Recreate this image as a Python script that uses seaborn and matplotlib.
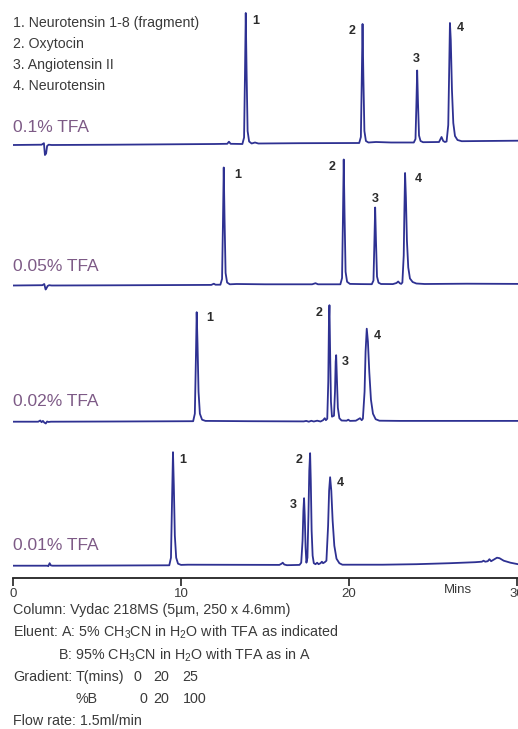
import numpy as np
import pandas as pd
import matplotlib
matplotlib.use("Agg")
import matplotlib.pyplot as plt
import seaborn as sns

# chromatogram traces (time in mins, detector signal)
t_01 = [0, 1.7, 1.84, 1.9, 1.97, 2.03, 2.12, 2.3, 6, 12.0, 12.75, 12.85, 12.95,
        13.65, 13.75, 13.8, 13.85, 13.9, 13.96, 14.05, 14.2, 14.4, 14.6, 17, 20.6,
        20.7, 20.75, 20.8, 20.85, 20.91, 21.0, 21.15, 21.6, 22.5, 23.85, 23.95, 24.0,
        24.05, 24.1, 24.16, 24.25, 24.4, 25.35, 25.5, 25.6, 25.7, 25.8, 25.9, 25.95,
        26.0, 26.05, 26.12, 26.2, 26.3, 26.45, 26.7, 28, 30.05]
s_01 = [0, 0.3, 1.8, -10, -8.5, -1, 0.3, 0, 0.3, 1, 1.2, 3.3, 1.2,
        1, 7.5, 66, 132, 73, 14, 3.5, 1.5, 2.5, 1.5, 1.8, 2,
        8, 62, 121, 67, 14, 4, 2.5, 3, 2.5, 2.5, 6, 38,
        74.5, 42, 9.5, 4, 2.8, 3, 8, 4, 3, 3.5, 20, 70,
        122, 105, 55, 22, 9, 5, 3.8, 4, 4.3]

t_005 = [0, 1.75, 1.86, 1.94, 2.0, 2.06, 2.15, 2.3, 6, 11.8, 11.95, 12.05, 12.34,
         12.44, 12.49, 12.54, 12.59, 12.65, 12.74, 12.9, 13.3, 15, 17.8, 18.0, 18.15,
         19.48, 19.58, 19.63, 19.68, 19.73, 19.79, 19.88, 20.05, 20.7, 21.35, 21.45,
         21.5, 21.55, 21.6, 21.66, 21.75, 21.9, 22.6, 22.82, 22.92, 23.02, 23.1, 23.17,
         23.25, 23.29, 23.33, 23.38, 23.44, 23.52, 23.62, 23.78, 24.0, 24.5, 27, 30.05]
s_005 = [0, 0.3, 1.5, -4, -2.5, -0.5, 0.3, 0, 0.2, 0.6, 1.8, 0.8, 0.8,
         6.6, 59, 118, 65, 12.5, 3, 1.2, 1.5, 1.2, 1.2, 2.3, 1.2,
         1.2, 7.5, 63.5, 126, 70, 13.7, 3.7, 1.6, 1.4, 1.3, 5,
         40, 78, 44, 9, 2.8, 1.5, 1.4, 2.5, 4, 2.2, 1.6, 3,
         30, 75, 112.5, 88, 45, 18, 7, 3.5, 2, 1.5, 1.8, 1.6]

t_002 = [0, 1.5, 1.62, 1.7, 1.78, 1.86, 1.95, 2.03, 2.12, 2.25, 6, 10.72, 10.82,
         10.88, 10.93, 10.98, 11.04, 11.12, 11.25, 11.45, 14, 17.3, 17.45, 17.6, 17.75,
         17.9, 18.1, 18.3, 18.45, 18.55, 18.62, 18.7, 18.76, 18.8, 18.83, 18.87, 18.92,
         18.98, 19.1, 19.16, 19.2, 19.23, 19.27, 19.33, 19.42, 19.55, 19.85, 19.95,
         20.05, 20.4, 20.55, 20.65, 20.75, 20.82, 20.92, 20.98, 21.05, 21.12, 21.2,
         21.3, 21.42, 21.58, 21.8, 23, 30.05]
s_002 = [0, 0, 1.2, -0.5, 0.8, -0.8, -1.8, 0.2, -0.3, 0, 0.2, 0.5, 8,
         60, 109.5, 78, 30, 8, 2, 0.8, 0.5, 0.3, 0.8, 0, 0.9,
         0.2, 1, 0.2, 1.5, 3.5, 1.5, 3, 40, 100, 116.5, 70, 20,
         5, 6, 30, 60, 66.5, 45, 14, 3.5, 1.2, 1, 2,
         0.8, 1, 2.5, 3.5, 1.5, 3, 30, 70, 93, 80, 50,
         22, 8, 2.5, 1, 0.8, 0.8]

t_001 = [0, 2.05, 2.1, 2.18, 2.25, 2.35, 6, 9.3, 9.4, 9.46, 9.52, 9.57, 9.63,
         9.71, 9.82, 10.0, 10.4, 15.85, 15.98, 16.05, 16.14, 16.3, 17.05, 17.15, 17.23,
         17.28, 17.32, 17.36, 17.41, 17.46, 17.52, 17.58, 17.63, 17.68, 17.72, 17.77,
         17.83, 17.9, 18.0, 18.1, 18.18, 18.3, 18.38, 18.45, 18.55, 18.65, 18.75, 18.81,
         18.87, 18.94, 19.02, 19.12, 19.25, 19.42, 19.6, 22, 24, 26, 27.5, 27.9, 28.0,
         28.1, 28.25, 28.35, 28.45, 28.6, 28.8, 28.95, 29.2, 29.6, 30.05]
s_001 = [0, 0, -0.5, 2.5, 0.3, 0, 0.2, 0.4, 8, 62, 113.5, 80, 30,
         8, 2, 0.8, 1.0, 0.8, 2, 3, 1.2, 0.5, 0.8, 3, 25,
         55, 67.5, 50, 18, 3, 8, 50, 95, 112.5, 85, 35,
         10, 2.5, 1.5, 3, 1.5, 2.5, 4, 2.5, 3.5, 5, 40, 75,
         88.5, 75, 45, 20, 7, 2.5, 1, 1, 1.5, 2.5, 3.5, 4, 5,
         4, 4.5, 6.5, 4.5, 6, 8, 7.5, 5, 3, 1.5]

trace_names = ["0.1% TFA", "0.05% TFA", "0.02% TFA", "0.01% TFA"]
trace_times = [t_01, t_005, t_002, t_001]
trace_signals = [s_01, s_005, s_002, s_001]

# peak number labels: (time, signal) per trace, peaks 1..4
peak_label_t = [[14.46, 20.2, 23.99, 26.6],
                [13.35, 18.97, 21.55, 24.13],
                [11.69, 18.23, 19.76, 21.7],
                [10.12, 17.02, 16.65, 19.46]]
peak_label_s = [[124, 114, 86, 117],
                [111, 118, 87, 106],
                [104, 109, 60, 86],
                [106, 106, 61, 83]]

compounds = ["1. Neurotensin 1-8 (fragment)", "2. Oxytocin",
             "3. Angiotensin II", "4. Neurotensin"]

x_ticks = [0, 10, 20, 30]

conditions = [
    (13, 610, "Column: Vydac 218MS (5µm, 250 x 4.6mm)"),
    (13, 632, "Eluent: A: 5% CH$_3$CN in H$_2$O with TFA as indicated"),
    (58, 655, "B: 95% CH$_3$CN in H$_2$O with TFA as in A"),
    (13, 677, "Gradient:"), (76, 677, "T(mins)"), (134, 677, "0"),
    (153, 677, "20"), (182, 677, "25"),
    (76, 699, "%B"), (140, 699, "0"), (153, 699, "20"), (183, 699, "100"),
    (13, 721, "Flow rate: 1.5ml/min"),
]

sns.set_theme(style="white")
FONT = ["Liberation Sans", "DejaVu Sans"]
plt.rcParams["font.family"] = FONT
plt.rcParams["mathtext.fontset"] = "custom"
plt.rcParams["mathtext.rm"] = "Liberation Sans"
plt.rcParams["mathtext.it"] = "Liberation Sans"

W, H = 518, 729
line_col = "#2e3192"
purple = "#7d5a86"
text_col = "#3a3a3a"

fig = plt.figure(figsize=(W / 100, H / 100), dpi=100)
baselines = [145, 285.5, 421.7, 565.7]
name_offsets = [13.5, 14.8, 15.7, 15.7]
left = 13 / W

for i in range(4):
    B = baselines[i]
    ax = fig.add_axes([left, 1 - (B + 12) / H, 1 - left, 152 / H])
    ax.patch.set_alpha(0)
    df = pd.DataFrame({"t": trace_times[i], "s": trace_signals[i]})
    sns.lineplot(data=df, x="t", y="s", ax=ax, color=line_col, linewidth=1.3,
                 estimator=None, sort=False)
    ax.set_xlim(0, 30.05)
    ax.set_ylim(-12, 140)
    ax.set_xlabel("")
    ax.set_ylabel("")
    ax.set_yticks([])
    for sp in ["top", "left", "right"]:
        ax.spines[sp].set_visible(False)
    ax.text(0, name_offsets[i], trace_names[i], color=purple, fontsize=12.5,
            ha="left", va="baseline")
    for k in range(4):
        ax.text(peak_label_t[i][k], peak_label_s[i][k], str(k + 1),
                fontsize=9, fontweight="bold", color="#2b2b2b",
                ha="center", va="center")
    if i < 3:
        ax.spines["bottom"].set_visible(False)
        ax.set_xticks([])
    else:
        ax.spines["bottom"].set_color("#222222")
        ax.spines["bottom"].set_linewidth(1.3)
        ax.set_xticks(x_ticks)
        ax.set_xticklabels([str(v) for v in x_ticks])
        ax.tick_params(axis="x", direction="out", length=6, width=1.2,
                       color="#222222", labelsize=9.5, labelcolor=text_col,
                       pad=1.5, bottom=True)

fig.text(458 / W, 1 - 590 / H, "Mins", fontsize=9.5, color=text_col,
         ha="center", va="center")

for j, name in enumerate(compounds):
    fig.text(13 / W, 1 - (23 + 21 * j) / H, name, fontsize=10.2,
             color=text_col, ha="left", va="center")

for x, y, s in conditions:
    fig.text(x / W, 1 - y / H, s, fontsize=10.3, color=text_col,
             ha="left", va="center")

fig.savefig("out.png", dpi=100)
